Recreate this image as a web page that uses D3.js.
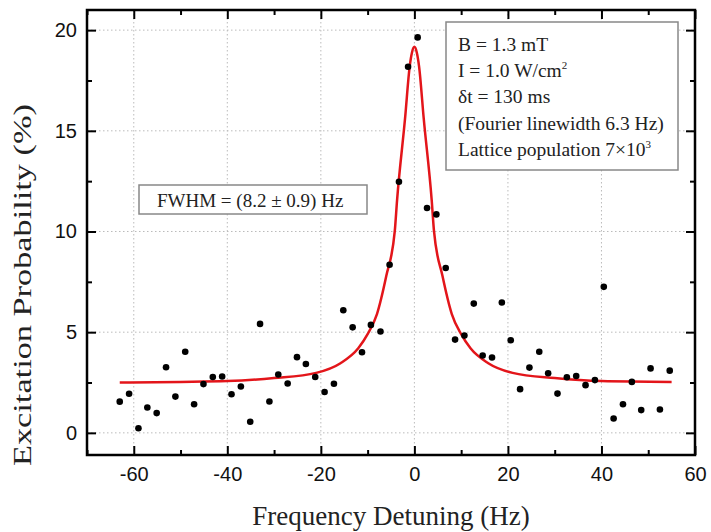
<html>
<head>
  <meta charset="utf-8">
  <style>
    body { margin: 0; background: #fff; }
  </style>
</head>
<body>
<script src="https://cdnjs.cloudflare.com/ajax/libs/d3/7.8.5/d3.min.js"></script>
<script>
  // measured points: detuning (Hz) and excitation probability (%)
  var detuning = [-63.0, -61.0, -59.0, -57.1, -55.1, -53.1, -51.1, -49.0, -47.1, -45.1,
                  -43.1, -41.1, -39.1, -37.1, -35.1, -33.0, -31.0, -29.1, -27.1, -25.1,
                  -23.2, -21.2, -19.2, -17.2, -15.2, -13.2, -11.2, -9.3, -7.25, -5.3,
                  -3.3, -1.35, 0.7, 2.7, 4.7, 6.7, 8.7, 10.7, 12.7, 14.6,
                  16.6, 18.7, 20.6, 22.6, 24.6, 26.7, 28.6, 30.6, 32.6, 34.6,
                  36.6, 38.6, 40.5, 42.6, 44.6, 46.5, 48.5, 50.5, 52.5, 54.6];
  var excitation = [1.55, 1.94, 0.23, 1.26, 0.98, 3.26, 1.80, 4.03, 1.42, 2.42,
                    2.77, 2.80, 1.92, 2.30, 0.55, 5.41, 1.56, 2.90, 2.45, 3.76,
                    3.42, 2.77, 2.03, 2.44, 6.09, 5.24, 4.00, 5.36, 5.03, 8.35,
                    12.47, 18.18, 19.64, 11.17, 10.85, 8.19, 4.63, 4.83, 6.42, 3.84,
                    3.74, 6.47, 4.60, 2.17, 3.24, 4.03, 2.96, 1.95, 2.76, 2.82,
                    2.37, 2.62, 7.25, 0.71, 1.42, 2.53, 1.13, 3.20, 1.16, 3.09];

  // red fit line
  var fitX = [-63, -50, -40, -30, -21, -15.8, -12, -10, -8, -6, -4.2, -3.7, -2, -1, -0.5, 0,
              0.5, 1, 2, 3.7, 4.2, 6, 8, 10, 12, 15.8, 21, 30, 40, 55];
  var fitY = [2.50, 2.53, 2.57, 2.72, 2.98, 3.46, 4.2, 4.9, 5.9, 7.8, 10.0, 11.56, 15.6, 18.2, 18.9, 19.17,
              18.9, 18.2, 15.6, 11.56, 10.0, 7.8, 5.9, 4.9, 4.2, 3.46, 2.98, 2.72, 2.57, 2.53];

  var xMajor = [-60, -40, -20, 0, 20, 40, 60];
  var xMinor = [-70, -50, -30, -10, 10, 30, 50];
  var yMajor = [0, 5, 10, 15, 20];
  var yMinor = [2.5, 7.5, 12.5, 17.5];

  var infoLines = ['B = 1.3 mT', 'I = 1.0 W/cm', '\u03b4t = 130 ms', '(Fourier linewidth 6.3 Hz)', 'Lattice population 7\u00d710'];
  var fwhmLabel = 'FWHM = (8.2 \u00b1 0.9) Hz';

  var width = 711, height = 532;
  var padL = 87, padR = 695, padT = 10, padB = 455;

  var svg = d3.select('body').append('svg')
      .attr('width', width)
      .attr('height', height);

  var x = d3.scaleLinear().domain([-70, 60]).range([padL, padR]);
  var y = d3.scaleLinear().domain([-1.1, 21]).range([padB, padT]);
  var plainNum = function(d){ return String(d); };

  // dotted grid
  svg.append('g').selectAll('line').data(xMajor.filter(function(d){ return d < 60; }))
    .join('line')
      .attr('x1', function(d){ return x(d); }).attr('x2', function(d){ return x(d); })
      .attr('y1', padT).attr('y2', padB)
      .attr('stroke', '#bbb').attr('stroke-dasharray', '1.5,2.5');
  svg.append('g').selectAll('line').data(yMajor)
    .join('line')
      .attr('x1', padL).attr('x2', padR)
      .attr('y1', function(d){ return y(d); }).attr('y2', function(d){ return y(d); })
      .attr('stroke', '#bbb').attr('stroke-dasharray', '1.5,2.5');

  // axes: ticks point inwards
  function styleAxis(g, hideText) {
    g.select('.domain').remove();
    g.selectAll('line').attr('stroke', '#000').attr('stroke-width', 2);
    if (hideText) g.selectAll('text').remove();
    else g.selectAll('text').attr('font-family', 'Liberation Sans, Arial, sans-serif').attr('font-size', 20).attr('fill', '#111');
  }

  svg.append('g').attr('transform', 'translate(0,' + padB + ')')
    .call(d3.axisBottom(x).tickValues(xMajor).tickSize(-9).tickPadding(12).tickFormat(plainNum))
    .call(styleAxis, false);
  svg.append('g').attr('transform', 'translate(0,' + padB + ')')
    .call(d3.axisBottom(x).tickValues(xMinor).tickSize(-5))
    .call(styleAxis, true);
  svg.append('g').attr('transform', 'translate(0,' + padT + ')')
    .call(d3.axisTop(x).tickValues(xMajor).tickSize(-9))
    .call(styleAxis, true);
  svg.append('g').attr('transform', 'translate(0,' + padT + ')')
    .call(d3.axisTop(x).tickValues(xMinor).tickSize(-5))
    .call(styleAxis, true);

  svg.append('g').attr('transform', 'translate(' + padL + ',0)')
    .call(d3.axisLeft(y).tickValues(yMajor).tickSize(-9).tickPadding(10).tickFormat(plainNum))
    .call(styleAxis, false);
  svg.append('g').attr('transform', 'translate(' + padL + ',0)')
    .call(d3.axisLeft(y).tickValues(yMinor).tickSize(-5))
    .call(styleAxis, true);
  svg.append('g').attr('transform', 'translate(' + padR + ',0)')
    .call(d3.axisRight(y).tickValues(yMajor).tickSize(-9))
    .call(styleAxis, true);
  svg.append('g').attr('transform', 'translate(' + padR + ',0)')
    .call(d3.axisRight(y).tickValues(yMinor).tickSize(-5))
    .call(styleAxis, true);

  // frame
  svg.append('rect')
    .attr('x', padL).attr('y', padT)
    .attr('width', padR - padL).attr('height', padB - padT)
    .attr('fill', 'none').attr('stroke', '#000').attr('stroke-width', 2.5);

  // fit curve
  var fitPts = fitX.map(function(d, i){ return [d, fitY[i]]; });
  svg.append('path')
    .datum(fitPts)
    .attr('d', d3.line()
      .x(function(d){ return x(d[0]); })
      .y(function(d){ return y(d[1]); })
      .curve(d3.curveMonotoneX))
    .attr('fill', 'none')
    .attr('stroke', '#e3151a')
    .attr('stroke-width', 2.5);

  // data points
  svg.append('g').selectAll('circle').data(detuning)
    .join('circle')
      .attr('cx', function(d){ return x(d); })
      .attr('cy', function(d, i){ return y(excitation[i]); })
      .attr('r', 3.3)
      .attr('fill', '#000');

  var serif = 'Liberation Serif, Times New Roman, serif';

  // FWHM box
  svg.append('rect')
    .attr('x', 139).attr('y', 185).attr('width', 228).attr('height', 29)
    .attr('fill', '#fff').attr('stroke', '#888').attr('stroke-width', 1.5);
  svg.append('text')
    .attr('x', 157).attr('y', 207)
    .attr('font-family', serif).attr('font-size', 19).attr('fill', '#222')
    .text(fwhmLabel);

  // info box
  svg.append('rect')
    .attr('x', 446).attr('y', 22).attr('width', 232).attr('height', 148)
    .attr('fill', '#fff').attr('stroke', '#888').attr('stroke-width', 1.5);
  var baselines = [51, 77, 103, 129.5, 156];
  var info = svg.append('g')
    .attr('font-family', serif).attr('font-size', 19.5).attr('fill', '#222');
  infoLines.forEach(function(t, i){
    var tx = info.append('text').attr('x', 458).attr('y', baselines[i]).text(t);
    if (i === 1 || i === 4) {
      tx.append('tspan').attr('dy', -8).attr('font-size', 11).text(i === 1 ? '2' : '3');
    }
  });

  // axis titles
  svg.append('text')
    .attr('x', 391).attr('y', 525)
    .attr('text-anchor', 'middle')
    .attr('font-family', serif).attr('font-size', 27).attr('fill', '#222')
    .text('Frequency Detuning (Hz)');

  svg.append('text')
    .attr('transform', 'translate(31,285) rotate(-90)')
    .attr('text-anchor', 'middle')
    .attr('font-family', serif).attr('font-size', 25).attr('fill', '#222')
    .attr('textLength', 362).attr('lengthAdjust', 'spacingAndGlyphs')
    .text('Excitation Probability (%)');
</script>
</body>
</html>
